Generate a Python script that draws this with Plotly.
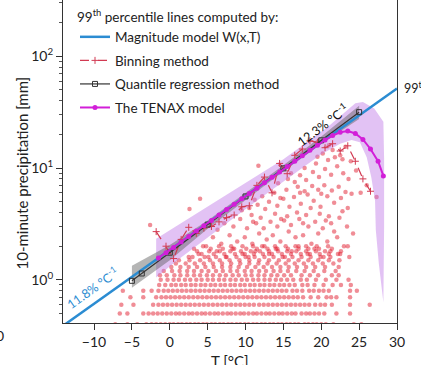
import plotly.graph_objects as go

# ---------------- data ----------------
# Magnitude model W(x,T), 99th percentile line (11.8 %/°C)
T_mag = [-15, 30]
P_mag = [0.351, 51.4]

# Quantile regression 99th percentile (12.3 %/°C) and its band
T_qr = [-5, -3.7, 0, 5, 10, 15, 20, 25]
P_qr = [0.98, 1.14, 1.75, 3.12, 5.57, 9.93, 17.7, 31.6]
T_qr_band = [-5, 0, 5, 10, 15, 20, 25]
P_qr_low = [0.85, 1.5, 2.86, 5.2, 9.3, 16.4, 27.5]
P_qr_high = [1.34, 2.05, 3.4, 5.95, 10.6, 19.1, 36.0]

# Binning method
T_bin = [-1.8, -0.5, 0.5, 1.5, 2.5, 3.5, 4.5, 5.5, 6.5, 7.5, 8.5, 9.5, 10.5, 11.5, 12.5,
         13.5, 14.5, 15.5, 16.5, 17.5, 18.5, 19.5, 20.5, 21.5, 22.5, 23.5, 24.5, 25.5, 26.5]
P_bin = [2.7, 2.0, 1.55, 2.3, 2.95, 2.6, 2.9, 3.0, 3.3, 3.6, 3.8, 4.5, 4.6, 7.0, 8.3,
         6.0, 11.0, 8.9, 13.0, 14.8, 17.5, 17.0, 15.2, 16.5, 14.2, 15.8, 11.5, 8.0, 6.2]

# TENAX model
T_tenax = [-1.5, -0.5, 0.5, 1.5, 2.5, 3.5, 4.5, 5.5, 6.5, 7.5, 8.5, 9.5, 10.5, 11.5, 12.5,
           13.5, 14.5, 15.5, 16.5, 17.5, 18.5, 19.5, 20.5, 21.5, 22.5, 23.5, 24.5, 25.5,
           26.5, 27.5, 28.2]
P_tenax = [1.57, 1.75, 1.95, 2.18, 2.44, 2.73, 3.05, 3.40, 3.80, 4.25, 4.75, 5.30, 5.92,
           6.61, 7.39, 8.26, 9.22, 10.3, 11.5, 12.9, 14.4, 16.0, 17.8, 19.5, 20.9, 21.4,
           20.4, 18.0, 14.8, 11.5, 8.5]

# TENAX uncertainty band (upper edge left->right, lower edge right->left)
T_tenax_up = [-1.8, 2, 6, 10, 12, 15, 18, 21, 23, 24.5, 25.5, 27, 28.2, 28.3, 28.3]
P_tenax_up = [2.33, 3.37, 4.99, 7.38, 8.95, 12.0, 16.8, 23.8, 31.0, 38.0, 39.0, 34.0, 26.0, 12.0, 3.0]
T_tenax_lo = [28.2, 27.6, 27.2, 27.1, 26.6, 26.0, 25.1, 24.0, 22.5, 20, 16, 12, 8, 4, 1, -1.8]
P_tenax_lo = [0.63, 1.4, 2.8, 5.1, 8.3, 12.5, 17.0, 17.8, 16.5, 13.3, 8.5, 5.4, 3.4, 2.15, 1.5, 1.05]

# Observations: quantised rows (precipitation level -> temperatures)
obs_rows = {
    0.4: [-7.2, -5.6, -4.3, -3.1, -2.4, -1.8, -1.2, -0.6, 0, 0.5, 1.1, 1.6, 2.2, 2.7, 3.3, 3.8,
          4.4, 4.9, 5.5, 6, 6.6, 7.1, 7.7, 8.2, 8.8, 9.3, 9.9, 10.4, 11, 11.5, 12.1, 12.6,
          13.2, 13.7, 14.3, 14.8, 15.4, 15.9, 16.5, 17, 17.8, 18.3, 18.9, 19.4, 20, 20.6,
          21.6, 24.3, 25.3],
    0.5: [-6.6, -5.6, -3.5, -2.8, -2.2, -1.6, -1, -0.4, 0.2, 0.8, 1.3, 1.9, 2.5, 3, 3.6, 4.2,
          4.7, 5.3, 5.9, 6.4, 7, 7.6, 8.1, 8.7, 9.3, 9.8, 10.4, 11, 11.5, 12.1, 12.7, 13.2,
          13.8, 14.4, 14.9, 15.5, 16.1, 16.6, 17.4, 18, 18.5, 19.1, 19.7, 20.4, 22, 23.8],
    0.6: [-6.4, -4.8, -2.2, -1.5, -0.9, -0.3, 0.3, 0.9, 1.5, 2.1, 2.7, 3.3, 3.9, 4.5, 5.1, 5.7,
          6.3, 6.9, 7.5, 8.1, 8.7, 9.3, 9.9, 10.5, 11.1, 11.8, 12.4, 13, 13.6, 14.2, 14.8,
          15.4, 16, 16.6, 17.2, 17.8, 18.4, 19.2, 19.9, 20.5, 21.4, 23.8, 26.4],
    0.7: [-5.2, -3.5, -1.8, -1.1, -0.5, 0.1, 0.7, 1.3, 1.9, 2.5, 3.1, 3.7, 4.3, 4.9, 5.5, 6.1,
          6.7, 7.3, 7.9, 8.5, 9.1, 9.7, 10.3, 10.9, 11.5, 12.1, 12.7, 13.3, 13.9, 14.5, 15.1,
          15.7, 16.3, 16.9, 17.6, 18.6, 19.6, 20.7, 21.3, 22, 23.8],
    0.8: [-6.2, -3.5, -2.4, -1.5, -0.8, -0.2, 0.4, 1, 1.6, 2.2, 2.8, 3.4, 4, 4.6, 5.2, 5.8,
          6.4, 7, 7.6, 8.2, 8.8, 9.4, 10, 10.6, 11.2, 11.8, 12.4, 13, 13.6, 14.2, 14.8, 15.4,
          16.2, 16.8, 17.5, 18.4, 19, 19.7, 20.3, 21, 23.8, 24.7],
    0.9: [-1.4, -0.6, 0.2, 0.8, 1.5, 2.1, 2.8, 3.4, 4.1, 4.7, 5.4, 6, 6.7, 7.3, 8, 8.6, 9.3,
          9.9, 10.6, 11.2, 11.9, 12.5, 13.2, 13.8, 14.5, 15.1, 15.8, 16.5, 17.5, 18.2, 19.1,
          20.3, 21.5, 22.6, 23.9],
    1.0: [-1.2, -0.3, 0.5, 1.2, 2, 2.7, 3.5, 4.2, 5, 5.7, 6.5, 7.2, 8, 8.7, 9.5, 10.2, 11,
          11.7, 12.5, 13.2, 14, 14.7, 15.5, 16.3, 17.3, 18.1, 19.3, 20.6, 22, 23.6],
    1.1: [-1.3, -0.4, 0.6, 1.4, 2.3, 3.2, 4, 4.9, 5.7, 6.6, 7.4, 8.3, 9.1, 10, 10.8, 11.7,
          12.5, 13.4, 14.2, 15.1, 16, 17.4, 18.5, 19.6, 21.4, 22.3],
    1.2: [-0.8, 0.3, 1.3, 2.3, 3.2, 4.2, 5.1, 6.1, 7, 8, 8.9, 9.9, 10.8, 11.8, 12.7, 13.7,
          14.6, 15.6, 16.7, 17.8, 19, 20.4, 21.9],
    1.3: [0.2, 1.4, 2.5, 3.6, 4.7, 5.8, 6.9, 8, 9.1, 10.2, 11.3, 12.4, 13.5, 14.6, 15.7, 16.8,
          18, 19.2, 20.5, 22.3],
    1.4: [0.8, 2.1, 3.3, 4.5, 5.7, 6.9, 8.1, 9.3, 10.5, 11.7, 12.9, 14.1, 15.3, 16.5, 17.7,
          18.9, 20.2, 21.6],
    1.5: [1.2, 2.6, 4, 5.3, 6.6, 7.9, 9.2, 10.5, 11.8, 13.1, 14.4, 15.7, 17, 18.3, 19.6, 21, 22.4],
    1.6: [3.0, 4.6, 6.1, 7.5, 8.8, 10.0, 11.2, 12.5, 13.7, 14.9, 16.2, 17.4, 18.6, 19.9, 21.2],
    1.7: [4.2, 5.8, 7.2, 8.6, 9.9, 11.1, 12.3, 13.5, 14.8, 16.0, 17.3, 18.5, 19.8, 21.0, 22.2],
    1.8: [3.6, 5.2, 6.6, 8.0, 9.4, 10.7, 11.9, 13.1, 14.3, 15.5, 16.7, 18.0, 19.3, 20.5, 22.6],
    1.9: [5.4, 7.0, 8.5, 10.1, 11.5, 12.9, 14.2, 15.6, 17.0, 18.3, 19.7, 21.4],
    2.0: [4.8, 6.5, 8.1, 9.6, 11.0, 12.5, 13.9, 15.3, 16.6, 18.0, 19.4, 20.9, 23.0],
}

# Observations: scattered larger values
obs_T = [2.5, 3.8, 5.1, 6.2, 7.4, 8.3, 9.6, 10.4, 11.3, 12.2, 13.1, 14.0, 15.2, 16.1, 17.0,
         18.2, 19.1, 20.3, 21.2, 22.5, 23.7, 4.4, 6.8, 8.9, 10.9, 12.8, 14.6, 16.6, 18.7, 20.8,
         22.1, 23.5, 5.7, 7.9, 9.9, 11.8, 13.6, 15.7, 17.6, 19.6, 21.7, 3.2,
         6.3, 8.4, 10.2, 11.4, 12.4, 13.3, 14.2, 15.1, 16.0, 17.1, 18.3, 19.2, 20.2, 21.3, 22.4,
         23.4, 24.2, 7.2, 9.3, 10.8, 12.0, 13.9, 15.5, 16.8, 18.0, 19.8, 21.0, 22.8, 14.7, 17.6,
         11.0, 20.6,
         9.5, 10.5, 11.6, 12.6, 13.1, 14.2, 15.0, 15.8, 16.4, 17.3, 18.2, 19.0, 19.9, 20.8, 21.7,
         22.6, 23.5, 24.0, 12.2, 13.8, 15.4, 16.9, 17.8, 18.8, 19.6, 20.4, 21.4, 22.3, 23.2, 14.6,
         11.2, 17.2, 18.6, 20.0,
         14.3, 15.6, 16.5, 17.2, 18.0, 18.9, 19.7, 20.5, 21.3, 22.1, 22.9, 23.6, 17.8, 19.3, 20.9,
         21.8, 16.0, 24.6, 26.0, 27.3, 25.2, 23.9,
         20.2, 21.5, 22.5, 23.2, 19.5, 22.8, 21.0,
         -2.6, 2.6, 4.0, 11.7]
obs_P = [1.6, 1.7, 1.6, 1.8, 1.6, 1.9, 1.7, 1.6, 1.8, 2.0, 1.7, 1.9, 1.6, 1.8, 2.0,
         1.7, 1.9, 1.6, 1.8, 1.7, 1.6, 2.0, 2.1, 2.2, 2.1, 2.3, 2.2, 2.4, 2.1, 2.2,
         2.4, 2.0, 2.4, 2.5, 2.4, 2.6, 2.5, 2.7, 2.5, 2.6, 2.7, 1.9,
         2.8, 3.0, 2.9, 3.2, 2.9, 3.3, 3.0, 3.4, 3.1, 3.5, 3.0, 3.3, 2.9, 3.2, 3.6,
         3.0, 2.6, 3.2, 3.5, 3.8, 3.6, 3.9, 3.7, 4.0, 3.8, 3.9, 3.7, 4.1, 3.5, 3.2,
         3.3, 3.4,
         4.2, 4.4, 4.7, 4.3, 5.0, 4.6, 5.3, 4.5, 5.5, 4.8, 5.8, 5.1, 4.5, 5.6, 4.9,
         5.4, 4.4, 5.9, 5.6, 6.0, 6.4, 6.8, 6.2, 6.9, 6.4, 7.0, 6.3, 6.8, 6.1, 5.4,
         5.2, 6.0, 4.4, 5.9,
         7.3, 8.0, 7.5, 8.6, 7.8, 9.2, 8.3, 9.8, 8.7, 10.4, 9.0, 8.0, 10.0, 11.0, 11.8,
         12.5, 9.0, 9.5, 7.0, 5.5, 6.0, 11.5,
         13.5, 14.5, 13.0, 15.5, 12.6, 12.0, 16.0,
         3.1, 4.3, 5.3, 10.5]

# Axis ticks
x_ticks = [-10, -5, 0, 5, 10, 15, 20, 25, 30]
y_ticks = [1, 10, 100]
y_ticktext = ["10<sup>0</sup>", "10<sup>1</sup>", "10<sup>2</sup>"]
y_minor = [0.5, 0.6, 0.7, 0.8, 0.9, 2, 3, 4, 5, 6, 7, 8, 9, 20, 30, 40, 50, 60, 70, 80, 90,
           200, 300]

# ---------------- figure ----------------
FONT = "Lato"
scat_x, scat_y = [], []
for p, ts in obs_rows.items():
    scat_x += ts
    scat_y += [p] * len(ts)
scat_x += obs_T
scat_y += obs_P

fig = go.Figure()

fig.add_trace(go.Scatter(
    x=scat_x, y=scat_y, mode="markers", showlegend=False, hoverinfo="skip",
    marker=dict(size=4.5, color="rgba(225,28,45,0.5)", line=dict(width=0))))

fig.add_trace(go.Scatter(
    x=T_tenax_up + T_tenax_lo, y=P_tenax_up + P_tenax_lo, fill="toself",
    mode="lines", line=dict(width=0), fillcolor="rgba(190,120,230,0.45)",
    showlegend=False, hoverinfo="skip"))

fig.add_trace(go.Scatter(
    x=T_qr_band + T_qr_band[::-1], y=P_qr_high + P_qr_low[::-1], fill="toself",
    mode="lines", line=dict(width=0), fillcolor="rgba(90,90,90,0.45)",
    showlegend=False, hoverinfo="skip"))

fig.add_trace(go.Scatter(
    x=T_mag, y=P_mag, mode="lines", name="Magnitude model W(x,T)",
    line=dict(color="#2b8cd2", width=2.5), legendgroup="a", legendrank=1))

fig.add_trace(go.Scatter(
    x=T_bin, y=P_bin, mode="lines+markers", name="Binning method",
    line=dict(color="#d23a52", width=1.2, dash="dash"),
    marker=dict(symbol="cross-thin", size=5, line=dict(color="#d23a52", width=1)),
    legendgroup="b", legendrank=2))

fig.add_trace(go.Scatter(
    x=T_qr, y=P_qr, mode="lines+markers", name="Quantile regression method",
    line=dict(color="#333333", width=1.2),
    marker=dict(symbol="square-open", size=5, color="#333333", line=dict(width=1)),
    legendgroup="c", legendrank=3))

fig.add_trace(go.Scatter(
    x=T_tenax, y=P_tenax, mode="lines+markers", name="The TENAX model",
    line=dict(color="#d21fd8", width=2),
    marker=dict(symbol="circle", size=5, color="#d21fd8"),
    legendgroup="d", legendrank=4))

PL, PR, PB = 63, 24, 42
W, H = 421, 365
pw, ph = W - PL - PR, H - PB


def px(x):
    return (x - PL) / pw


def py(y):
    return (ph - y) / ph


def note(text, x, y, size=13.5, color="#222", angle=0, xanchor="center"):
    return dict(text=text, x=px(x), y=py(y), xref="paper", yref="paper",
                xanchor=xanchor, yanchor="middle", showarrow=False, textangle=angle,
                font=dict(family=FONT, size=size, color=color))


fig.update_layout(
    width=W, height=H,
    margin=dict(l=PL, r=PR, t=0, b=PB, pad=0),
    paper_bgcolor="white", plot_bgcolor="white",
    font=dict(family=FONT, size=13.5, color="#222222"),
    showlegend=True,
    legend=dict(
        x=px(75), y=py(4), xanchor="left", yanchor="top",
        bgcolor="rgba(0,0,0,0)", borderwidth=0,
        traceorder="grouped", tracegroupgap=3,
        font=dict(family=FONT, size=13.5, color="#222222"),
        title=dict(text="99<sup>th</sup> percentile lines computed by:",
                   font=dict(family=FONT, size=13.5, color="#222222")),
    ),
    xaxis=dict(
        range=[-14.1, 30], tickvals=x_ticks, ticks="outside", ticklen=6,
        tickcolor="#333", showline=True, linecolor="#333", linewidth=1.2,
        mirror=False, showgrid=False, zeroline=False,
        tickfont=dict(family=FONT, size=14, color="#222")),
    yaxis=dict(
        type="log", range=[-0.386, 2.503], tickvals=y_ticks, ticktext=y_ticktext,
        ticks="outside", ticklen=6, tickcolor="#333", showline=True, linecolor="#333",
        linewidth=1.2, mirror=True, showgrid=False, zeroline=False,
        tickfont=dict(family=FONT, size=14, color="#222"),
        minor=dict(tickvals=y_minor, ticks="outside", ticklen=3, tickcolor="#555",
                   showgrid=False)),
    annotations=[
        note("11.8% °C<sup>-1</sup>", 92, 287, size=12.5, color="#2b8cd2", angle=-35.4),
        note("12.3% °C<sup>-1</sup>", 322, 124, size=12.5, color="#111", angle=-36.6),
        note("99<sup>th</sup>", 402, 87, size=12.5, xanchor="left"),
        note("0", 0, 335, size=14),
        note("T [°C]", 230, 361, size=15),
        note("10-minute precipitation [mm]", 21, 173.5, size=15, angle=-90),
    ],
)

fig.write_html("out.html")
